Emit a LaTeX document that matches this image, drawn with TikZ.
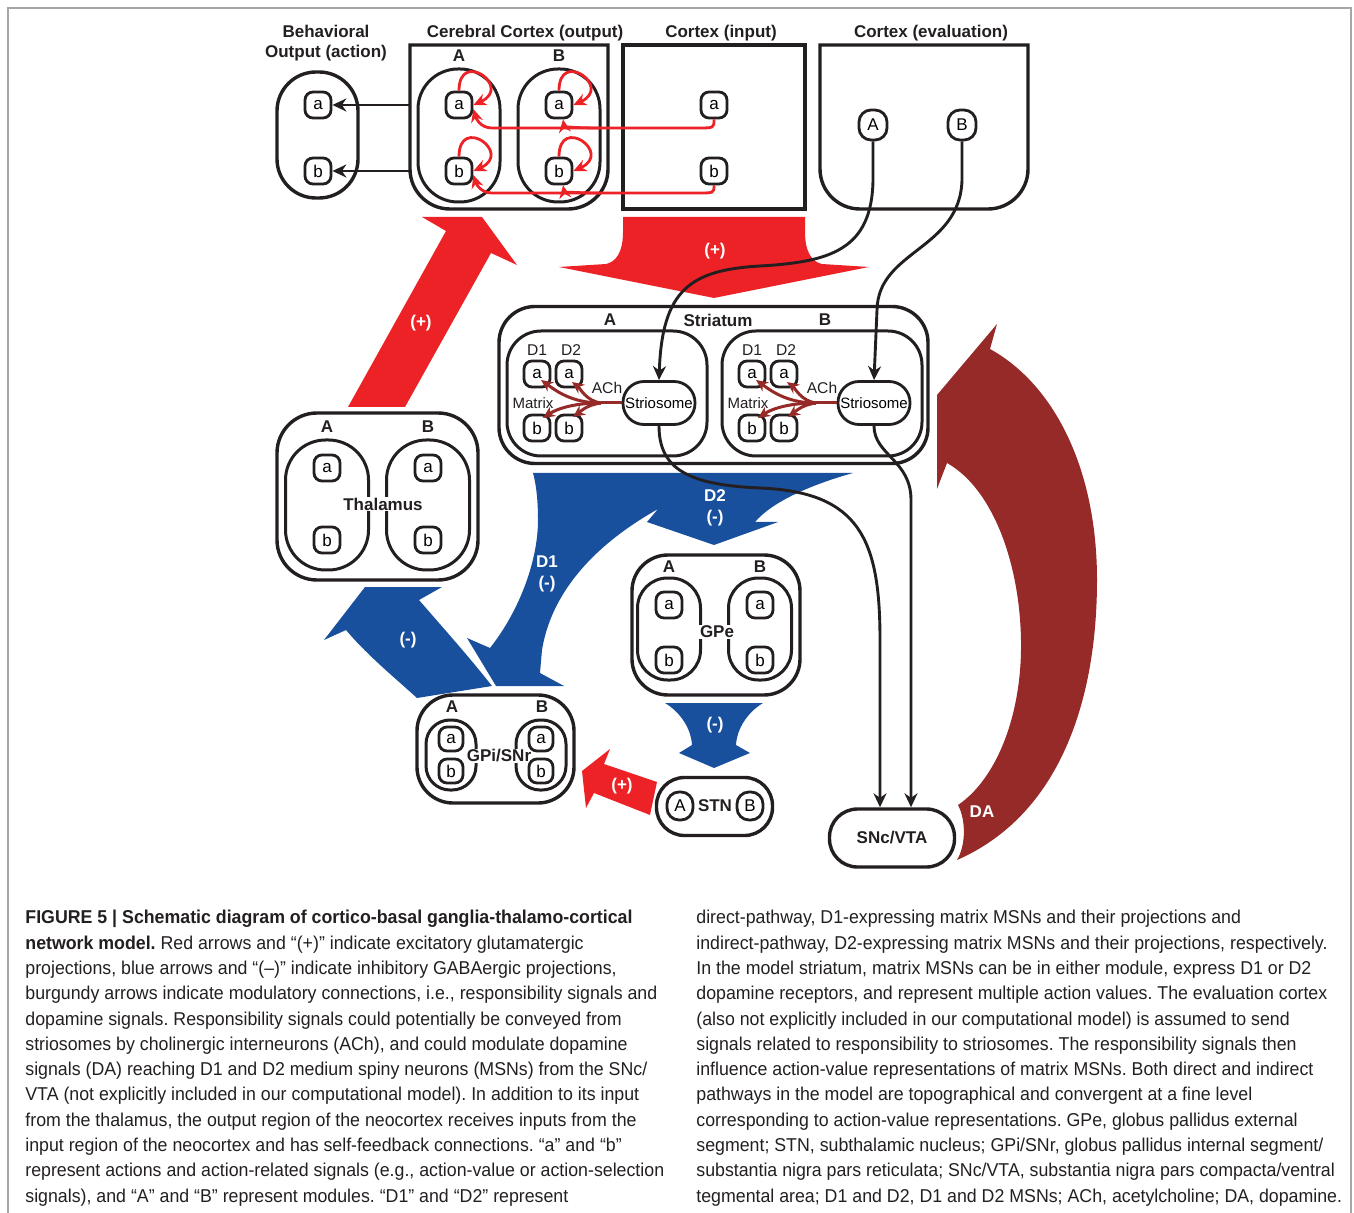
\documentclass[tikz,border=0pt]{standalone}
\usepackage{fontspec}
\setmainfont{Liberation Sans}
\setsansfont{Liberation Sans}
\newfontfamily\capfont[FakeStretch=0.955]{Liberation Sans}
\usetikzlibrary{positioning, arrows.meta, shapes, calc, backgrounds}
\definecolor{inkgray}{HTML}{231F20}
\definecolor{excred}{HTML}{EC2227}
\definecolor{inhblue}{HTML}{18509E}
\definecolor{modred}{HTML}{962A28}
\tikzset{
  x=0.5pt, y=-0.5pt,
  region/.style={rectangle, draw=inkgray, line width=1.7pt, inner sep=0pt},
  regionline/.style={draw=inkgray, line width=1.7pt},
  modbox/.style={rectangle, draw=inkgray, line width=1.5pt, inner sep=0pt},
  unitbox/.style={rectangle, draw=inkgray, line width=1.4pt, rounded corners=4pt,
    minimum width=13pt, minimum height=13pt, inner sep=0pt,
    font=\fontsize{8.5}{9}\selectfont},
  regiontitle/.style={font=\bfseries\fontsize{8.5}{10}\selectfont, text=inkgray,
    inner sep=0.5pt, align=center},
  smalltext/.style={font=\fontsize{7.8}{9}\selectfont, text=inkgray, inner sep=0.5pt},
  signlabel/.style={font=\bfseries\fontsize{8.5}{10.5}\selectfont, text=white,
    align=center, inner sep=0pt},
  conn/.style={draw=inkgray, line width=1.45pt, -{Stealth[length=7pt,width=6.5pt]}},
  excline/.style={draw=excred, line width=1.4pt, -{Stealth[length=6.5pt,width=6pt]}},
  modline/.style={draw=modred, line width=1.5pt, -{Stealth[length=6pt,width=5.5pt]}},
  captext/.style={font=\capfont\fontsize{9.3}{12.65}\selectfont\frenchspacing, text=inkgray,
    align=left, inner sep=0pt, anchor=north west},
}

\begin{document}
\begin{tikzpicture}
  \useasboundingbox (0,0) rectangle (1354,1213);
  \draw[gray!70, line width=0.7pt] (8,1213) -- (8,8) -- (1351,8) -- (1351,1213);

  % projections between areas
  \fill[excred] (623,217) -- (805,217) -- (805,232) .. controls (805,252) and (812,262) .. (822,264)
    -- (869,267) -- (714,298) -- (559,267) -- (606,264) .. controls (616,262) and (623,252) .. (623,232) -- cycle;
  \fill[excred] (348,407) -- (446,231) -- (422,217) -- (482,217) -- (517,265) -- (491,253) -- (405,407) -- cycle;
  \fill[excred] (657,782) -- (604,764) -- (610,749) -- (582,771) -- (586,808) -- (594,793) -- (650,815) -- cycle;
  \fill[inhblue] (533,473) -- (853,473) .. controls (810,485) and (772,502) .. (755,522) -- (778,522)
    -- (714,545) -- (647,522) -- (658,509) .. controls (630,525) and (555,570) .. (542,650) -- (540,673)
    -- (564,686) -- (496,686) -- (467,638) -- (490,648) .. controls (520,610) and (538,560) .. (538,520)
    .. controls (538,495) and (535,480) .. (533,473) -- cycle;
  \fill[inhblue] (365,587) -- (442,587) -- (419,600) .. controls (445,630) and (470,658) .. (492,686)
    -- (417,698) .. controls (395,678) and (367,655) .. (346,630) -- (324,640) -- cycle;
  \fill[inhblue] (665,703) -- (763,703) .. controls (748,712) and (737,728) .. (736,745) -- (750,753)
    -- (714,768) -- (679,753) -- (692,745) .. controls (691,728) and (680,712) .. (665,703) -- cycle;
  \fill[modred] (957,860) .. controls (1060,815) and (1097,700) .. (1097,580)
    .. controls (1097,470) and (1055,385) .. (990,349) -- (997,324) -- (937,395) -- (937,489) -- (947,463)
    .. controls (995,490) and (1022,570) .. (1021,650) .. controls (1020,720) and (995,780) .. (958,805)
    .. controls (966,820) and (966,845) .. (957,860) -- cycle;
  \node (ctxstrS) [signlabel] at (715,251) {(+)};
  \node (thctxS) [signlabel] at (421,323) {(+)};
  \node (stngpiS) [signlabel] at (622,786) {(+)};
  \node (d2S) [signlabel] at (715,508) {D2\\(-)};
  \node (d1S) [signlabel] at (547,574) {D1\\(-)};
  \node (gpithS) [signlabel] at (408,640) {(-)};
  \node (gpestnS) [signlabel] at (715,725) {(-)};
  \node (daS) [signlabel] at (982,812) {DA};

  % behavioral output
  \node (behT) [regiontitle] at (326,43) {Behavioral\\Output (action)};
  \node (beh) [region, rounded corners=19.5pt, minimum width=40.5pt, minimum height=63pt] at (317.5,135) {};
  \node (behA) [unitbox] at (318,105) {a};
  \node (behB) [unitbox] at (318,171) {b};

  % cerebral cortex (output)
  \node (outT) [regiontitle] at (525,33) {Cerebral Cortex (output)};
  \draw[regionline] (608,45) -- (410,45) [rounded corners=20pt] -- (410,209) -- (608,209) [sharp corners] -- cycle;
  \coordinate (outA) at (410,105);
  \coordinate (outB) at (410,171);
  \foreach \m/\x in {A/459, B/559} {
    \node (outmod\m) [modbox, rounded corners=20pt, minimum width=41pt, minimum height=66.5pt] at (\x,135.5) {};
    \node (outlbl\m) [regiontitle] at (\x,56) {\m};
    \node (out\m a) [unitbox] at (\x,105) {a};
    \node (out\m b) [unitbox] at (\x,171) {b};
    \foreach \u in {a,b}
      \draw[excline] (out\m\u.north) .. controls +(0,-42) and +(40,-18) .. (out\m\u.east);
  }
  \draw[conn] (outA) -- (behA.east);
  \draw[conn] (outB) -- (behB.east);

  % cortex (input)
  \node (inT) [regiontitle] at (721,33) {Cortex (input)};
  \node (inp) [region, minimum width=91pt, minimum height=82pt] at (714,127) {};
  \node (ina) [unitbox] at (714,105) {a};
  \node (inb) [unitbox] at (714,171) {b};
  \coordinate (forka) at (600,128);
  \coordinate (forkb) at (600,193);
  \draw[excline] (ina.south) .. controls (714,128) .. (698,128) -- (492,128)
    .. controls (480,128) and (476,118) .. ($(outAa.east)+(0,4)$);
  \draw[excline] (forka) .. controls (570,128) and (564,126) .. ($(outBa.south)+(4,0)$);
  \draw[excline] (inb.south) .. controls (714,193) .. (698,193) -- (492,193)
    .. controls (480,193) and (476,183) .. ($(outAb.east)+(0,4)$);
  \draw[excline] (forkb) .. controls (570,193) and (564,191) .. ($(outBb.south)+(4,0)$);

  % cortex (evaluation)
  \node (evT) [regiontitle] at (931,33) {Cortex (evaluation)};
  \draw[regionline] (820,45) -- (1028,45) [rounded corners=20pt] -- (1028,209) -- (820,209) [sharp corners] -- cycle;
  \node (evA) [unitbox, minimum width=14pt, minimum height=15pt, rounded corners=6pt] at (873,125) {A};
  \node (evB) [unitbox, minimum width=14pt, minimum height=15pt, rounded corners=6pt] at (962,125) {B};

  % striatum
  \node (str) [region, rounded corners=18pt, minimum width=214.5pt, minimum height=78.5pt] at (713.5,385) {};
  \node (strT) [regiontitle] at (718,320) {Striatum};
  \foreach \m/\d in {A/0, B/215} {
    \node (strmod\m) [modbox, rounded corners=17pt, minimum width=100pt, minimum height=62.5pt] at (607+\d,393.5) {};
    \node (strlbl\m) [regiontitle] at (610+\d,320) {\m};
    \node (st\m d1) [smalltext] at (537+\d,350) {D1};
    \node (st\m d2) [smalltext] at (571+\d,350) {D2};
    \node (st\m a1) [unitbox] at (537+\d,374) {a};
    \node (st\m a2) [unitbox] at (569+\d,374) {a};
    \node (st\m b1) [unitbox] at (537+\d,428) {b};
    \node (st\m b2) [unitbox] at (569+\d,428) {b};
    \node (st\m mx) [smalltext, font=\fontsize{7.5}{9}\selectfont] at (533+\d,403) {Matrix};
    \node (st\m ach) [smalltext] at (607+\d,388) {ACh};
    \node (st\m str) [unitbox, minimum width=36pt, minimum height=21.5pt, rounded corners=10.5pt,
      font=\fontsize{7.5}{9}\selectfont] at (659+\d,403) {Striosome};
    \coordinate (st\m fork) at (601+\d,403);
    \draw[modred, line width=1.5pt] (st\m str.west) -- (st\m fork);
    \draw[modline] (st\m fork) .. controls +(-30,0) and +(14,10) .. ($(st\m a1)+(4,6)$);
    \draw[modline] (st\m fork) .. controls +(-15,-2) and +(8,6) .. ($(st\m a2)+(3,8)$);
    \draw[modline] (st\m fork) .. controls +(-30,0) and +(12,-8) .. ($(st\m b1)+(6,-10)$);
    \draw[modline] (st\m fork) .. controls +(-15,2) and +(7,-5) .. ($(st\m b2)+(4,-11)$);
  }
  \draw[conn] (evA.south) -- (873,180) .. controls (872,250) and (830,262) .. (760,266)
    .. controls (690,270) and (662,290) .. (stAstr.north);
  \draw[conn] (evB.south) -- (962,180) .. controls (960,250) and (878,250) .. (877,310) -- (stBstr.north);

  % SNc/VTA
  \node (snc) [region, rounded corners=14pt, minimum width=62.5pt, minimum height=29pt,
    font=\bfseries\fontsize{8.5}{10}\selectfont, text=inkgray] at (892,838) {SNc/VTA};
  \draw[conn] (stAstr.south) .. controls (659,470) and (690,485) .. (760,488)
    .. controls (860,492) and (880,540) .. (880,640) -- (snc.north -| 880,0);
  \draw[conn] (stBstr.south) .. controls (874,455) and (911,460) .. (911,500) -- (snc.north -| 911,0);

  % thalamus
  \node (thal) [region, rounded corners=20pt, minimum width=100.5pt, minimum height=83.5pt] at (377.5,496.5) {};
  \foreach \m/\x in {A/327, B/428} {
    \node (thmod\m) [modbox, rounded corners=20pt, minimum width=41.5pt, minimum height=65pt] at (\x,505) {};
    \node (thlbl\m) [regiontitle] at (\x,427) {\m};
  }
  \node (thalT) [regiontitle, fill=white] at (383,504) {Thalamus};
  \foreach \m/\x in {A/327, B/428} {
    \node (th\m a) [unitbox] at (\x,468) {a};
    \node (th\m b) [unitbox] at (\x,540) {b};
  }

  % GPe
  \node (gpe) [region, rounded corners=18pt, minimum width=84pt, minimum height=70pt] at (716,625) {};
  \foreach \m/\x in {A/669, B/760} {
    \node (gpemod\m) [modbox, rounded corners=15pt, minimum width=31.5pt, minimum height=51pt] at (\x,629) {};
    \node (gpelbl\m) [regiontitle] at (\x,567) {\m};
  }
  \node (gpeT) [regiontitle, fill=white] at (717,632) {GPe};
  \foreach \m/\x in {A/669, B/760} {
    \node (gpe\m a) [unitbox] at (\x,605) {a};
    \node (gpe\m b) [unitbox] at (\x,660) {b};
  }

  % GPi/SNr
  \node (gpi) [region, rounded corners=18pt, minimum width=78.5pt, minimum height=54pt] at (495.5,749) {};
  \foreach \m/\x in {A/451, B/541} {
    \node (gpimod\m) [modbox, rounded corners=12pt, minimum width=25pt, minimum height=35pt] at (\x,755) {};
    \node (gpilbl\m) [regiontitle] at (\x+1,707) {\m};
  }
  \node (gpiT) [regiontitle, fill=white, inner sep=0.3pt] at (499,756) {GPi/SNr};
  \foreach \m/\x in {A/451, B/541} {
    \node (gpi\m a) [unitbox, minimum width=12pt, minimum height=12pt] at (\x,739) {a};
    \node (gpi\m b) [unitbox, minimum width=12pt, minimum height=12pt] at (\x,771) {b};
  }

  % STN
  \node (stn) [region, rounded corners=14pt, minimum width=58pt, minimum height=29pt] at (714.5,806.5) {};
  \node (stnA) [unitbox, minimum height=14pt, rounded corners=6pt] at (680,806) {A};
  \node (stnT) [regiontitle] at (715,806) {STN};
  \node (stnB) [unitbox, minimum height=14pt, rounded corners=6pt] at (750,806) {B};

  % caption
  \node (capL) [captext] at (25,910) {{\bfseries FIGURE 5 | Schematic diagram of cortico-basal ganglia-thalamo-cortical}\\
    {\bfseries network model.} Red arrows and “(+)” indicate excitatory glutamatergic\\
    projections, blue arrows and “(–)” indicate inhibitory GABAergic projections,\\
    burgundy arrows indicate modulatory connections, i.e., responsibility signals and\\
    dopamine signals. Responsibility signals could potentially be conveyed from\\
    striosomes by cholinergic interneurons (ACh), and could modulate dopamine\\
    signals (DA) reaching D1 and D2 medium spiny neurons (MSNs) from the SNc/\\
    VTA (not explicitly included in our computational model). In addition to its input\\
    from the thalamus, the output region of the neocortex receives inputs from the\\
    input region of the neocortex and has self-feedback connections. “a” and “b”\\
    represent actions and action-related signals (e.g., action-value or action-selection\\
    signals), and “A” and “B” represent modules. “D1” and “D2” represent};
  \node (capR) [captext] at (696,910) {direct-pathway, D1-expressing matrix MSNs and their projections and\\
    indirect-pathway, D2-expressing matrix MSNs and their projections, respectively.\\
    In the model striatum, matrix MSNs can be in either module, express D1 or D2\\
    dopamine receptors, and represent multiple action values. The evaluation cortex\\
    (also not explicitly included in our computational model) is assumed to send\\
    signals related to responsibility to striosomes. The responsibility signals then\\
    influence action-value representations of matrix MSNs. Both direct and indirect\\
    pathways in the model are topographical and convergent at a fine level\\
    corresponding to action-value representations. GPe, globus pallidus external\\
    segment; STN, subthalamic nucleus; GPi/SNr, globus pallidus internal segment/\\
    substantia nigra pars reticulata; SNc/VTA, substantia nigra pars compacta/ventral\\
    tegmental area; D1 and D2, D1 and D2 MSNs; ACh, acetylcholine; DA, dopamine.};
\end{tikzpicture}
\end{document}
